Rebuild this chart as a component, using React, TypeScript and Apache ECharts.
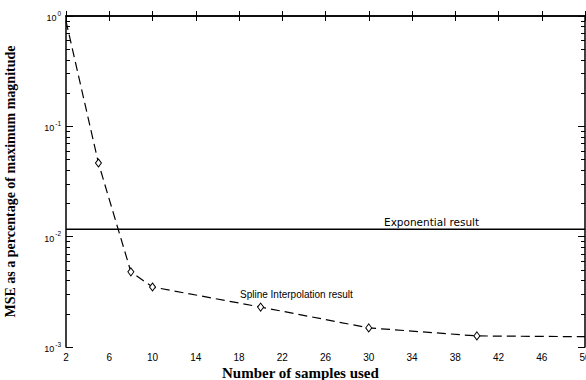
import React, { useEffect, useRef } from "react";
import * as echarts from "echarts";

const xTicks = [2, 6, 10, 14, 18, 22, 26, 30, 34, 38, 42, 46, 50];
const samples = [2, 5, 8, 10, 20, 30, 40, 50];
const splineMse = [0.9, 0.0465, 0.0048, 0.0035, 0.0023, 0.00149, 0.00126, 0.00124];
const markerShown = [false, true, true, true, true, true, true, false];
const exponentialMse = 0.0117;
const yDecades = [-3, -2, -1, 0];
const minorMultipliers = [2, 3, 4, 5, 6, 7, 8, 9];

const minorLogPositions: number[] = [];
for (let d = -3; d < 0; d++) {
  for (const m of minorMultipliers) minorLogPositions.push(Math.log10(m * Math.pow(10, d)));
}

export default function App() {
  const ref = useRef<HTMLDivElement>(null);
  useEffect(() => {
    const chart = echarts.init(ref.current!, null, { renderer: "svg" });
    const grid = { left: 66, right: 1, top: 16, bottom: 33, containLabel: false, outerBoundsMode: "none" };
    const tickStyle = { color: "#000", width: 1 };
    chart.setOption({
      animation: false,
      backgroundColor: "#fff",
      grid,
      xAxis: [
        {
          type: "value",
          min: xTicks[0],
          max: xTicks[xTicks.length - 1],
          position: "bottom",
          axisLine: { show: true, lineStyle: { color: "#000", width: 1.5 } },
          axisTick: { inside: true, length: 5, customValues: xTicks, lineStyle: tickStyle },
          axisLabel: {
            customValues: xTicks,
            color: "#000",
            fontSize: 10,
            fontFamily: "Liberation Sans",
            margin: 5,
            hideOverlap: false,
          },
          splitLine: { show: false },
        },
        {
          type: "value",
          min: xTicks[0],
          max: xTicks[xTicks.length - 1],
          position: "top",
          axisLine: { show: true, lineStyle: { color: "#000", width: 1.5 } },
          axisTick: { inside: true, length: 5, customValues: xTicks, lineStyle: tickStyle },
          axisLabel: { show: false },
          splitLine: { show: false },
        },
      ],
      yAxis: [
        {
          type: "log",
          logBase: 10,
          min: 0.001,
          max: 1,
          splitNumber: 3,
          position: "left",
          axisLine: { show: true, lineStyle: { color: "#000", width: 1.5 } },
          axisTick: { inside: true, length: 7, lineStyle: tickStyle },
          axisLabel: {
            color: "#000",
            margin: 5,
            formatter: (v: number) => `{b|10}{s|${Math.round(Math.log10(v))}}`,
            rich: {
              b: { fontSize: 9, fontFamily: "Liberation Sans", color: "#000", verticalAlign: "bottom" },
              s: { fontSize: 6.5, fontFamily: "Liberation Sans", color: "#000", verticalAlign: "top", padding: [0, 0, 6, 1] },
            },
          },
          splitLine: { show: false },
          name: "MSE as a percentage of maximum magnitude",
          nameLocation: "middle",
          nameGap: 49,
          nameTextStyle: { fontFamily: "Liberation Serif", fontWeight: "bold", fontSize: 14, color: "#000" },
        },
        {
          type: "log",
          logBase: 10,
          min: 0.001,
          max: 1,
          splitNumber: 3,
          position: "right",
          axisLine: { show: true, lineStyle: { color: "#000", width: 1.5 } },
          axisTick: { inside: true, length: 7, lineStyle: tickStyle },
          axisLabel: { show: false },
          splitLine: { show: false },
        },
        {
          type: "value",
          min: yDecades[0],
          max: yDecades[yDecades.length - 1],
          position: "left",
          offset: 0,
          axisLine: { show: false },
          axisTick: { show: true, inside: true, length: 4, customValues: minorLogPositions, lineStyle: tickStyle },
          axisLabel: { show: false },
          splitLine: { show: false },
        },
        {
          type: "value",
          min: yDecades[0],
          max: yDecades[yDecades.length - 1],
          position: "right",
          offset: 0,
          axisLine: { show: false },
          axisTick: { show: true, inside: true, length: 4, customValues: minorLogPositions, lineStyle: tickStyle },
          axisLabel: { show: false },
          splitLine: { show: false },
        },
      ],
      series: [
        {
          type: "line",
          xAxisIndex: 0,
          yAxisIndex: 0,
          data: [
            [xTicks[0], exponentialMse],
            [xTicks[xTicks.length - 1], exponentialMse],
          ],
          symbol: "none",
          lineStyle: { color: "#000", width: 1.5, type: "solid" },
          silent: true,
        },
        {
          type: "line",
          xAxisIndex: 0,
          yAxisIndex: 0,
          data: samples.map((s, i) => ({
            value: [s, splineMse[i]],
            symbol: markerShown[i] ? "diamond" : "none",
          })),
          symbolSize: [6, 8],
          showAllSymbol: true,
          itemStyle: { color: "#fff", borderColor: "#000", borderWidth: 1 },
          lineStyle: { color: "#000", width: 1.2, type: [9, 5] },
          silent: true,
        },
      ],
      graphic: [
        {
          type: "text",
          left: 384,
          top: 216,
          style: { text: "Exponential result", fontFamily: "DejaVu Sans", fontSize: 10.5, fill: "#000" },
        },
        {
          type: "text",
          left: 240,
          top: 289,
          style: { text: "Spline Interpolation result", fontFamily: "Liberation Sans", fontSize: 10, fill: "#000" },
        },
        {
          type: "text",
          left: 222,
          top: 365,
          style: { text: "Number of samples used", fontFamily: "Liberation Serif", fontWeight: "bold", fontSize: 15, fill: "#000" },
        },
      ],
    });
    return () => chart.dispose();
  }, []);
  return (
    <div
      ref={ref}
      style={{ position: "absolute", left: 0, top: 0, width: 586, height: 380 }}
    />
  );
}
